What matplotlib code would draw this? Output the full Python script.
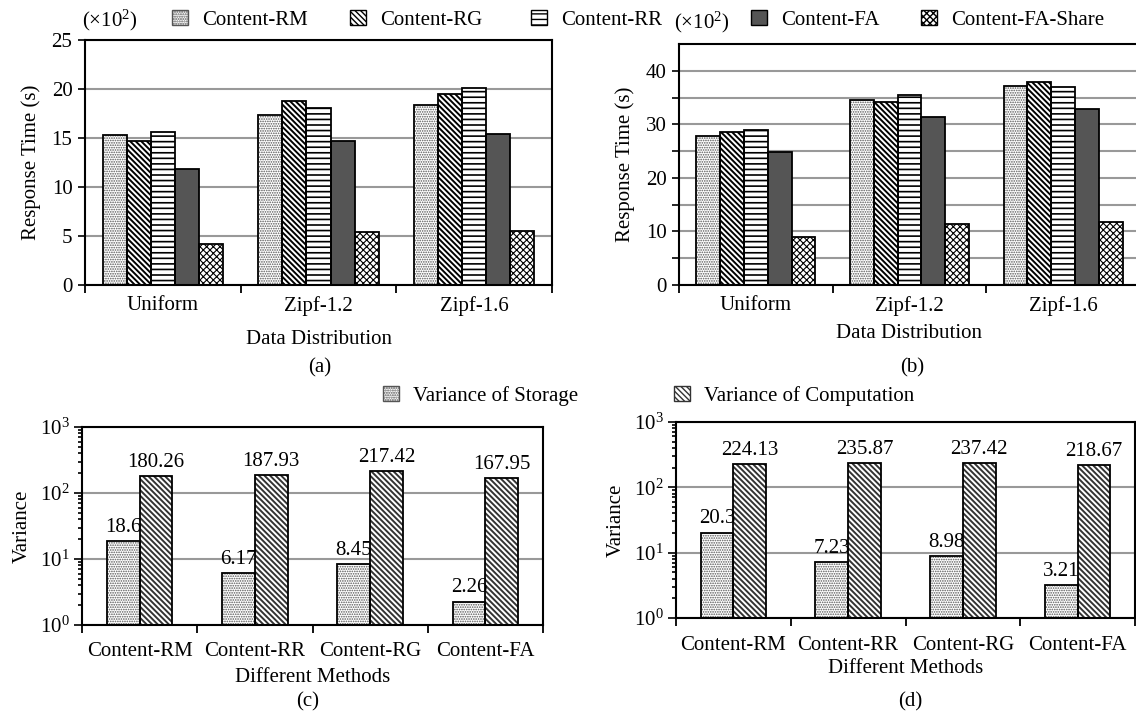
import numpy as np
import matplotlib
matplotlib.use('Agg')
import matplotlib.pyplot as plt
from matplotlib.patches import Patch
from matplotlib.ticker import FixedLocator, NullFormatter, LogLocator

plt.rcParams['font.family'] = ['Liberation Serif', 'DejaVu Serif']
plt.rcParams['mathtext.fontset'] = 'custom'
plt.rcParams['mathtext.rm'] = 'Liberation Serif'
plt.rcParams['mathtext.it'] = 'Liberation Serif:italic'
plt.rcParams['font.size'] = 15
plt.rcParams['hatch.linewidth'] = 1.0

# ---------------- data ----------------
distributions = ['Uniform', 'Zipf-1.2', 'Zipf-1.6']
series_names = ['Content-RM', 'Content-RG', 'Content-RR', 'Content-FA', 'Content-FA-Share']

# panel (a)  (x10^2 s)
a_rm = [15.3, 17.3, 18.4]
a_rg = [14.7, 18.8, 19.5]
a_rr = [15.6, 18.1, 20.1]
a_fa = [11.8, 14.7, 15.4]
a_share = [4.2, 5.4, 5.5]

# panel (b)  (x10^2 s)
b_rm = [27.8, 34.6, 37.2]
b_rg = [28.6, 34.2, 37.9]
b_rr = [28.9, 35.4, 37.0]
b_fa = [24.9, 31.4, 32.8]
b_share = [9.0, 11.3, 11.7]

methods = ['Content-RM', 'Content-RR', 'Content-RG', 'Content-FA']
c_storage = [18.6, 6.17, 8.45, 2.26]
c_computation = [180.26, 187.93, 217.42, 167.95]
d_storage = [20.3, 7.23, 8.98, 3.21]
d_computation = [224.13, 235.87, 237.42, 218.67]

# ---------------- styles ----------------
styles = {
    'Content-RM': dict(face='white', hatch='.......', hc='#555555', hlw=0.8),
    'Content-RG': dict(face='white', hatch='\\' * 6, hc='black', hlw=1.4),
    'Content-RR': dict(face='white', hatch='---', hc='black', hlw=1.2),
    'Content-FA': dict(face='#555555', hatch=None, hc='#555555', hlw=1.0),
    'Content-FA-Share': dict(face='white', hatch='xxxxx', hc='black', hlw=0.8),
    'Variance of Storage': dict(face='white', hatch='.......', hc='#555555', hlw=0.8),
    'Variance of Computation': dict(face='white', hatch='\\' * 6, hc='#333333', hlw=1.4),
}

W, H = 1136, 715
fig = plt.figure(figsize=(W / 100, H / 100), dpi=100)


def pos(l, r, t, b):
    return [l / W, 1 - b / H, (r - l) / W, (b - t) / H]


def set_hlw(patches, lw):
    for p in patches:
        if hasattr(p, 'set_hatch_linewidth'):
            p.set_hatch_linewidth(lw)


def hbars(ax, x, h, w, name):
    s = styles[name]
    bc = ax.bar(x, h, w, color=s['face'], edgecolor=s['hc'], hatch=s['hatch'],
                linewidth=0, zorder=2)
    set_hlw(bc.patches, s['hlw'])
    ax.bar(x, h, w, fill=False, edgecolor='black', linewidth=1.3, zorder=3)


def handle(name):
    s = styles[name]
    p = Patch(facecolor=s['face'], edgecolor=s['hc'] if s['hatch'] else 'black',
              hatch=s['hatch'], linewidth=1.0)
    set_hlw([p], s['hlw'])
    return p


def style_axes(ax, ncat, labels, pad=8):
    for sp in ax.spines.values():
        sp.set_linewidth(1.5)
        sp.set_color('black')
    ax.set_xlim(-0.5, ncat - 0.5)
    ax.xaxis.set_major_locator(FixedLocator(np.arange(ncat + 1) - 0.5))
    ax.xaxis.set_major_formatter(NullFormatter())
    ax.xaxis.set_minor_locator(FixedLocator(np.arange(ncat)))
    ax.set_xticklabels(labels, minor=True)
    ax.tick_params(axis='x', which='major', direction='out', length=6, width=1.3)
    ax.tick_params(axis='x', which='minor', length=0, pad=pad)
    ax.tick_params(axis='y', which='both', direction='out', width=1.2)
    ax.set_axisbelow(True)


# ---------------- panel (a) ----------------
axa = fig.add_axes(pos(85, 552, 40, 285))
x = np.arange(len(distributions))
bw = 0.155
data_a = [a_rm, a_rg, a_rr, a_fa, a_share]
for i, (name, vals) in enumerate(zip(series_names, data_a)):
    hbars(axa, x + (i - 2) * bw, vals, bw, name)
axa.set_ylim(0, 25)
axa.set_yticks([0, 5, 10, 15, 20, 25])
axa.yaxis.grid(True, color='#999999', linewidth=1.5)
style_axes(axa, 3, distributions)
axa.tick_params(axis='y', length=5, pad=4)
axa.set_ylabel('Response Time (s)', labelpad=8)
axa.set_xlabel('Data Distribution', labelpad=10)

# ---------------- panel (b) ----------------
axb = fig.add_axes(pos(679, 1140, 44, 285))
data_b = [b_rm, b_rg, b_rr, b_fa, b_share]
for i, (name, vals) in enumerate(zip(series_names, data_b)):
    hbars(axb, x + (i - 2) * bw, vals, bw, name)
axb.set_ylim(0, 45)
axb.set_yticks([0, 10, 20, 30, 40])
axb.set_yticks([5, 15, 25, 35], minor=True)
axb.yaxis.grid(True, which='both', color='#999999', linewidth=1.5)
style_axes(axb, 3, distributions)
axb.tick_params(axis='y', which='both', length=5, pad=4)
axb.set_ylabel('Response Time (s)', labelpad=8)
axb.set_xlabel('Data Distribution', labelpad=6)

# ---------------- panels (c), (d) ----------------
def var_panel(rect, storage, comp, tpad, lpad):
    ax = fig.add_axes(rect)
    xm = np.arange(len(methods))
    w = 0.285
    hbars(ax, xm - w / 2, storage, w, 'Variance of Storage')
    hbars(ax, xm + w / 2, comp, w, 'Variance of Computation')
    ax.set_yscale('log')
    ax.set_ylim(1, 1000)
    ax.yaxis.set_major_locator(LogLocator(base=10, numticks=5))
    ax.yaxis.set_minor_locator(LogLocator(base=10, subs=np.arange(2, 10), numticks=20))
    ax.yaxis.set_minor_formatter(NullFormatter())
    ax.yaxis.grid(True, which='major', color='#999999', linewidth=1.5)
    style_axes(ax, 4, methods, pad=tpad)
    ax.tick_params(axis='y', which='major', length=6, pad=3)
    ax.tick_params(axis='y', which='minor', length=3)
    for xi, v in zip(xm - w / 2, storage):
        ax.annotate(f'{v:g}', (xi, v), xytext=(0, 3), textcoords='offset points',
                    ha='center', va='bottom')
    for xi, v in zip(xm + w / 2, comp):
        ax.annotate(f'{v:.2f}', (xi, v), xytext=(0, 3), textcoords='offset points',
                    ha='center', va='bottom')
    ax.set_ylabel('Variance', labelpad=6)
    ax.set_xlabel('Different Methods', labelpad=lpad)
    return ax

axc = var_panel(pos(82, 543, 427, 625), c_storage, c_computation, 12, 5)
axd = var_panel(pos(676, 1135, 422, 618), d_storage, d_computation, 13, 3)

# ---------------- legends ----------------
def leg(name, xpx, ypx):
    fig.legend([handle(name)], [name], loc='center left',
               bbox_to_anchor=(xpx / W, 1 - ypx / H), frameon=False,
               handlelength=0.75, handleheight=0.75, handletextpad=0.7,
               borderpad=0, borderaxespad=0, fontsize=15)

leg('Content-RM', 172, 20)
leg('Content-RG', 350, 20)
leg('Content-RR', 531, 20)
leg('Content-FA', 751, 20)
leg('Content-FA-Share', 921, 20)
leg('Variance of Storage', 383, 396)
leg('Variance of Computation', 674, 396)

# multiplier labels
fig.text(82 / W, 1 - 20 / H, '(×10$^{2}$)', ha='left', va='center', fontsize=15)
fig.text(674 / W, 1 - 22 / H, '(×10$^{2}$)', ha='left', va='center', fontsize=15)

# captions
fig.text(320 / W, 1 - 368 / H, '(a)', ha='center', va='center', fontsize=15)
fig.text(912 / W, 1 - 368 / H, '(b)', ha='center', va='center', fontsize=15)
fig.text(308 / W, 1 - 702 / H, '(c)', ha='center', va='center', fontsize=15)
fig.text(910 / W, 1 - 702 / H, '(d)', ha='center', va='center', fontsize=15)

fig.savefig('out.png', dpi=100)
